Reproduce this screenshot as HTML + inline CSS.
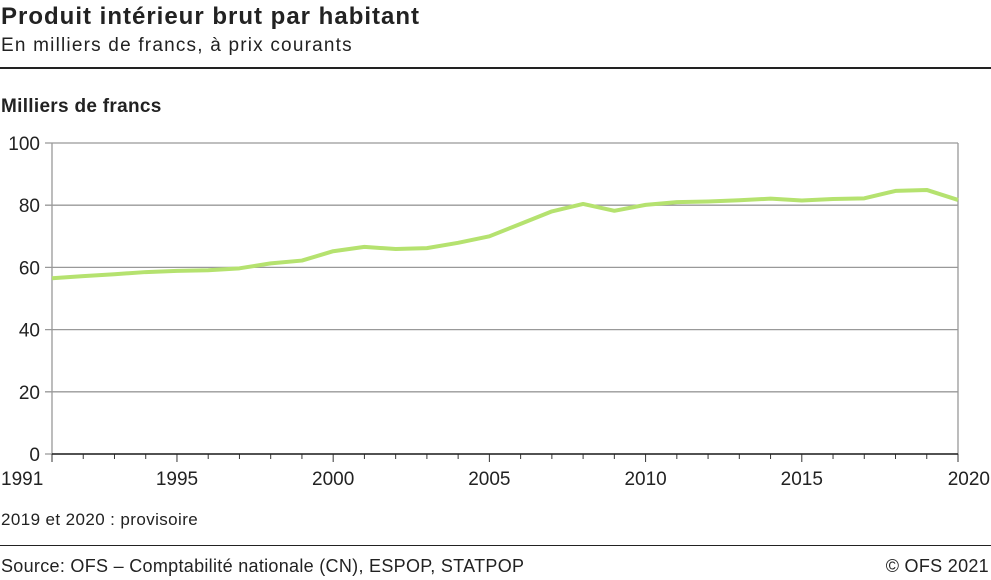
<!DOCTYPE html>
<html><head><meta charset="utf-8"><style>
body{margin:0;width:991px;height:580px;background:#fff;font-family:"Liberation Sans",sans-serif;color:#222;position:relative;overflow:hidden}
.t{position:absolute;white-space:nowrap}
</style></head><body>
<div class="t" style="left:1px;top:3px;font-size:24px;font-weight:bold;letter-spacing:1px">Produit intérieur brut par habitant</div>
<div class="t" style="left:1px;top:35px;font-size:19px;letter-spacing:1.2px">En milliers de francs, à prix courants</div>
<div style="position:absolute;left:0;top:67px;width:991px;height:2px;background:#222"></div>
<div class="t" style="left:1px;top:96px;font-size:19px;font-weight:bold;letter-spacing:0.3px">Milliers de francs</div>
<svg id="c" width="991" height="580" style="position:absolute;left:0;top:0"></svg>
<div class="t" style="left:1px;top:510px;font-size:17px;letter-spacing:0.4px">2019 et 2020 : provisoire</div>
<div style="position:absolute;left:0;top:545px;width:991px;height:1px;background:#222"></div>
<div class="t" style="left:1px;top:556px;font-size:18px;letter-spacing:0.3px">Source: OFS – Comptabilité nationale (CN), ESPOP, STATPOP</div>
<div class="t" style="right:2px;top:556px;font-size:18px;letter-spacing:0.3px">© OFS 2021</div>
<script>
const years=[1991,1992,1993,1994,1995,1996,1997,1998,1999,2000,2001,2002,2003,2004,2005,2006,2007,2008,2009,2010,2011,2012,2013,2014,2015,2016,2017,2018,2019,2020];
const values=[56.5,57.2,57.8,58.5,58.9,59.1,59.7,61.3,62.2,65.2,66.6,65.9,66.2,67.9,70,74,78,80.4,78.2,80.1,81,81.2,81.6,82.1,81.5,82,82.2,84.6,84.9,81.7];
const yTicks=[0,20,40,60,80,100];
const xLabels=[1991,1995,2000,2005,2010,2015,2020];
const NS="http://www.w3.org/2000/svg",svg=document.getElementById('c');
const L=52,R=958,T=143,B=454;
const x=v=>L+(v-1991)/(2020-1991)*(R-L);
const y=v=>B-v/100*(B-T);
function el(t,a){const e=document.createElementNS(NS,t);for(const k in a)e.setAttribute(k,a[k]);svg.appendChild(e);return e;}
yTicks.forEach(v=>{
 const g=el('line',{x1:45,x2:R,y1:y(v),y2:y(v),stroke:'#999','stroke-width':1.3});
 
 
 const t=el('text',{x:40,y:y(v)+7,'text-anchor':'end','font-size':19,fill:'#222','font-family':'Liberation Sans, sans-serif'});
 t.textContent=v;
 
 
});
const ax=el('line',{x1:L,x2:L,y1:T,y2:B,stroke:'#999','stroke-width':1.3});


const rb=el('line',{x1:R,x2:R,y1:T,y2:B,stroke:'#999','stroke-width':1.3});


years.forEach(v=>{
 const tk=el('line',{x1:x(v),x2:x(v),y1:B,y2:B+(xLabels.includes(v)?8:5),stroke:'#333','stroke-width':1});
 
 
});
const bx=el('line',{x1:L,x2:R,y1:B,y2:B,stroke:'#222','stroke-width':1.5});


xLabels.forEach((v,i)=>{
 const t=el('text',{x:x(v),y:485,'text-anchor':i==0?'start':(i==xLabels.length-1?'end':'middle'),'font-size':19,fill:'#222','font-family':'Liberation Sans, sans-serif'});
 if(i==0)t.setAttribute('x',x(v)-51);
 if(i==xLabels.length-1)t.setAttribute('x',x(v)+32);
 t.textContent=v;
 
 
});
const p=el('polyline',{points:years.map((yr,i)=>x(yr)+','+y(values[i])).join(' '),fill:'none',stroke:'#b5e26f','stroke-width':4,'stroke-linejoin':'round'});


</script>
</body></html>
